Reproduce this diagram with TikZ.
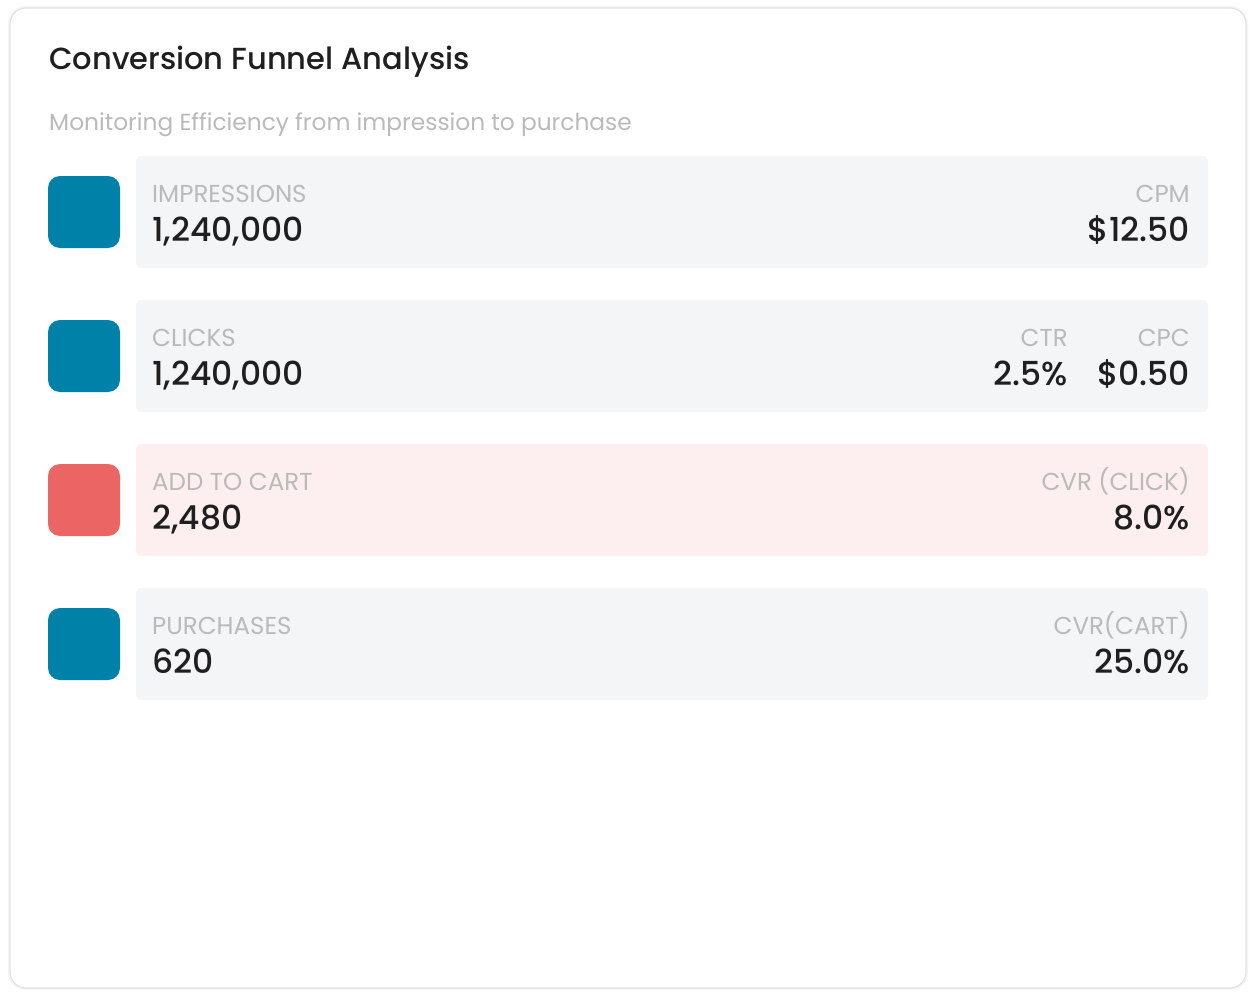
\documentclass[tikz,border=0pt]{standalone}
\usepackage{fontspec}
\setmainfont{Poppins}
\newfontfamily\medfont{Poppins}[UprightFont={* Medium}]
\definecolor{teal}{HTML}{0081A7}
\definecolor{coral}{HTML}{EC6565}
\definecolor{rowbg}{HTML}{F4F5F7}
\definecolor{pinkbg}{HTML}{FDEFEF}
\definecolor{lblgray}{HTML}{BABABA}
\definecolor{ink}{HTML}{1F1F1F}
\definecolor{cardline}{HTML}{E2E2E2}
\tikzset{
  lbl/.style={inner sep=0pt, text=lblgray, font=\fontsize{24.5}{28}\selectfont},
  val/.style={inner sep=0pt, text=ink, font=\medfont\fontsize{33}{38}\selectfont},
}
\begin{document}
\begin{tikzpicture}[x=1pt,y=-1pt]
\useasboundingbox (0,0) rectangle (1256,998);
\fill[white] (0,0) rectangle (1256,998);
% card
\draw[black!4, line width=4pt, rounded corners=16pt] (10,8) rectangle (1246,988);
\draw[cardline, fill=white, line width=1.2pt, rounded corners=16pt] (10,8) rectangle (1246,988);
% title
\node[inner sep=0pt, anchor=base west, text=ink, font=\medfont\fontsize{30.5}{36}\selectfont] (title) at (49,70) {Conversion Funnel Analysis};
\node[inner sep=0pt, anchor=base west, text=lblgray, font=\fontsize{23.3}{27}\selectfont] (subtitle) at (49,130) {Monitoring Efficiency from impression to purchase};
% rows
\foreach \i/\bg/\sc in {0/rowbg/teal,1/rowbg/teal,2/pinkbg/coral,3/rowbg/teal}{
  \pgfmathsetmacro{\yo}{144*\i}
  \fill[\bg, rounded corners=6pt] (136,156+\yo) rectangle (1208,268+\yo);
  \fill[\sc, rounded corners=12pt] (48,176+\yo) rectangle (120,248+\yo);
}
% row 1
\node[lbl, anchor=base west] (l1) at (152,202) {IMPRESSIONS};
\node[val, anchor=base west] (v1) at (152,241) {1,240,000};
\node[lbl, anchor=base east] (r1l) at (1190,202) {CPM};
\node[val, anchor=base east] (r1v) at (1190,241) {\$12.50};
% row 2
\node[lbl, anchor=base west] (l2) at (152,346) {CLICKS};
\node[val, anchor=base west] (v2) at (152,385) {1,240,000};
\node[lbl, anchor=base east] (r2al) at (1068,346) {CTR};
\node[val, anchor=base east] (r2av) at (1068,385) {2.5\%};
\node[lbl, anchor=base east] (r2bl) at (1190,346) {CPC};
\node[val, anchor=base east] (r2bv) at (1190,385) {\$0.50};
% row 3
\node[lbl, anchor=base west] (l3) at (152,490) {ADD TO CART};
\node[val, anchor=base west] (v3) at (152,529) {2,480};
\node[lbl, anchor=base east] (r3l) at (1190,490) {CVR (CLICK)};
\node[val, anchor=base east] (r3v) at (1190,529) {8.0\%};
% row 4
\node[lbl, anchor=base west] (l4) at (152,634) {PURCHASES};
\node[val, anchor=base west] (v4) at (152,673) {620};
\node[lbl, anchor=base east] (r4l) at (1190,634) {CVR(CART)};
\node[val, anchor=base east] (r4v) at (1190,673) {25.0\%};
\end{tikzpicture}
\end{document}
